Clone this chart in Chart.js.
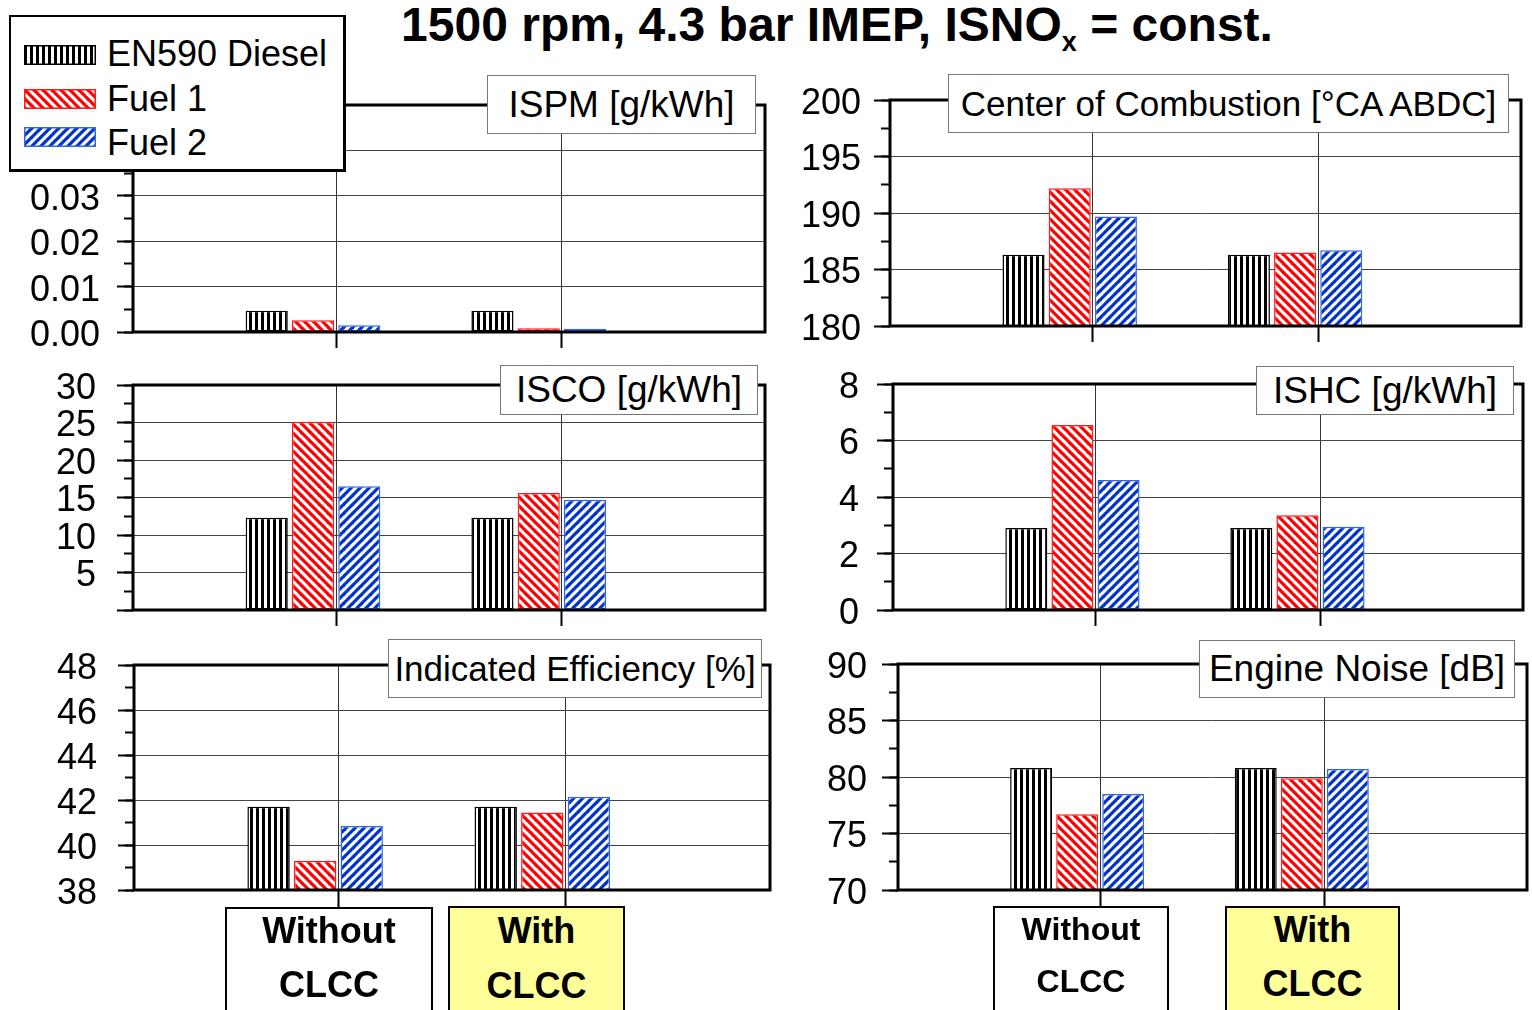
<!DOCTYPE html>
<html lang="en">
<head>
<meta charset="utf-8" />
<title>1500 rpm, 4.3 bar IMEP, ISNOx = const.</title>
<script src="https://cdn.jsdelivr.net/npm/chart.js@4.4.1/dist/chart.umd.min.js"></script>
<style>
	body { margin: 0; width: 1532px; height: 1010px; overflow: hidden; background: #fff; position: relative;
		font-family: "Liberation Sans", Arial, sans-serif; color: #000; }
	canvas.panel { position: absolute; }
	#title { position: absolute; top: 1px; left: 837px; transform: translateX(-50%); font-weight: bold;
		font-size: 48px; line-height: 48px; white-space: nowrap; z-index: 3; }
	#title sub { font-size: 27px; vertical-align: -10px; line-height: 0; }
	.label { position: absolute; background: #fff; border: 1px solid #777; text-align: center;
		white-space: nowrap; z-index: 2; box-sizing: border-box; }
	#legend { position: absolute; left: 9px; top: 15px; width: 337px; height: 157px; box-sizing: border-box;
		border: 2px solid #000; border-right-width: 3px; border-bottom-width: 3px; background: #fff; z-index: 4; }
	#legend .item { position: absolute; left: 13px; height: 20px; display: flex; align-items: center; }
	#legend .item span { font-size: 36px; margin-left: 11px; line-height: 20px; position: relative; }
	.group { position: absolute; border: 2px solid #000; height: 130px; font-weight: bold; text-align: center; z-index: 2; }
	.group div { margin-top: -5px; }
	.yellow { background: #ffff99; }
</style>
</head>
<body>
<div id="title">1500 rpm, 4.3 bar IMEP, ISNO<sub>x</sub> = const.</div>

<div id="legend">
	<div class="item" style="top: 28px"><canvas id="sw0" width="72" height="20"></canvas><span style="top: -1px">EN590 Diesel</span></div>
	<div class="item" style="top: 72px"><canvas id="sw1" width="72" height="20"></canvas><span>Fuel 1</span></div>
	<div class="item" style="top: 110px"><canvas id="sw2" width="72" height="20"></canvas><span style="top: 6px">Fuel 2</span></div>
</div>

<div class="group" style="left: 225px; top: 907px; width: 204px; font-size: 36px; line-height: 54px;"><div>Without<br>CLCC</div></div>
<div class="group yellow" style="left: 448px; top: 906px; width: 173px; font-size: 36px; line-height: 55px;"><div>With<br>CLCC</div></div>
<div class="group" style="left: 993px; top: 906px; width: 172px; font-size: 32px; line-height: 52px;"><div>Without<br>CLCC</div></div>
<div class="group yellow" style="left: 1225px; top: 906px; width: 171px; font-size: 36px; line-height: 54px;"><div>With<br>CLCC</div></div>

<script>
	const groups = ["Without CLCC", "With CLCC"];
	const fuels = ["EN590 Diesel", "Fuel 1", "Fuel 2"];

	// ISPM [g/kWh]
	const ispmDiesel = [0.0047, 0.0047];
	const ispmFuel1 = [0.0026, 0.0008];
	const ispmFuel2 = [0.0015, 0.0007];
	// Center of Combustion [°CA ABDC]
	const cocDiesel = [186.3, 186.3];
	const cocFuel1 = [192.2, 186.5];
	const cocFuel2 = [189.7, 186.7];
	// ISCO [g/kWh]
	const iscoDiesel = [12.3, 12.3];
	const iscoFuel1 = [25.1, 15.6];
	const iscoFuel2 = [16.5, 14.7];
	// ISHC [g/kWh]
	const ishcDiesel = [2.9, 2.9];
	const ishcFuel1 = [6.55, 3.35];
	const ishcFuel2 = [4.6, 2.95];
	// Indicated Efficiency [%]
	const effDiesel = [41.7, 41.7];
	const effFuel1 = [39.3, 41.45];
	const effFuel2 = [40.85, 42.15];
	// Engine Noise [dB]
	const noiseDiesel = [80.8, 80.8];
	const noiseFuel1 = [76.7, 79.9];
	const noiseFuel2 = [78.5, 80.7];

	const hatchKinds = ["vertical", "down", "up"];
	const hatchColors = ["#000000", "#ff0000", "#0033cc"];
	const edgeColors = ["#000000", "#ff1a1a", "#3366e6"];

	Chart.defaults.font.family = '"Liberation Sans", Arial, sans-serif';
	Chart.defaults.color = "#000";

	function hatch(ctx, kind, color) {
		const tile = document.createElement("canvas");
		const s = kind === "vertical" ? 6 : 9;
		tile.width = s;
		tile.height = s;
		const g = tile.getContext("2d");
		g.fillStyle = "#fff";
		g.fillRect(0, 0, s, s);
		g.fillStyle = color;
		g.strokeStyle = color;
		if (kind === "vertical") {
			g.fillRect(0, 0, 3, s);
		} else {
			g.lineWidth = 3.2;
			for (const o of [-s, 0, s]) {
				g.beginPath();
				if (kind === "down") {
					g.moveTo(o - 2, -2);
					g.lineTo(o + s + 2, s + 2);
				} else {
					g.moveTo(o - 2, s + 2);
					g.lineTo(o + s + 2, -2);
				}
				g.stroke();
			}
		}
		return ctx.createPattern(tile, "repeat");
	}

	// legend swatches
	for (let k = 0; k < fuels.length; k++) {
		const c = document.getElementById("sw" + k);
		const g = c.getContext("2d");
		g.fillStyle = hatch(g, hatchKinds[k], hatchColors[k]);
		g.fillRect(0, 0, c.width, c.height);
		g.strokeStyle = edgeColors[k];
		g.lineWidth = 1.5;
		g.strokeRect(0.75, 0.75, c.width - 1.5, c.height - 1.5);
	}

	const frame = {
		id: "frame",
		afterDraw(chart) {
			const { ctx, chartArea: a } = chart;
			ctx.save();
			ctx.strokeStyle = "#000";
			ctx.lineWidth = 3;
			ctx.strokeRect(a.left, a.top, a.right - a.left, a.bottom - a.top);
			ctx.restore();
		},
	};

	const panels = [
		{ title: "ISPM [g/kWh]", titleSize: 37, area: [133, 105, 765, 332], min: 0, max: 0.05, step: 0.01, decimals: 2, pad: 17,
			xTick: 16, series: [ispmDiesel, ispmFuel1, ispmFuel2], box: [487, 75, 269, 59] },
		{ title: "Center of Combustion [°CA ABDC]", titleSize: 35, area: [890, 100, 1521, 326], min: 180, max: 200, step: 5, decimals: 0, pad: 13,
			xTick: 16, series: [cocDiesel, cocFuel1, cocFuel2], box: [948, 74, 561, 59] },
		{ title: "ISCO [g/kWh]", titleSize: 37, area: [133, 385, 765, 610], min: 0, max: 30, step: 5, decimals: 0, pad: 21, hideZero: true,
			xTick: 16, series: [iscoDiesel, iscoFuel1, iscoFuel2], box: [500, 365, 258, 50] },
		{ title: "ISHC [g/kWh]", titleSize: 37, area: [893, 384, 1523, 610], min: 0, max: 8, step: 2, decimals: 0, pad: 18,
			xTick: 16, series: [ishcDiesel, ishcFuel1, ishcFuel2], box: [1256, 366, 258, 49] },
		{ title: "Indicated Efficiency [%]", titleSize: 35, area: [134, 665, 770, 890], min: 38, max: 48, step: 2, decimals: 0, pad: 21,
			xTick: 17, series: [effDiesel, effFuel1, effFuel2], box: [388, 639, 374, 59] },
		{ title: "Engine Noise [dB]", titleSize: 37, area: [898, 664, 1527, 890], min: 70, max: 90, step: 5, decimals: 0, pad: 15,
			xTick: 16, series: [noiseDiesel, noiseFuel1, noiseFuel2], box: [1199, 640, 316, 58] },
	];

	const tickFont = 36;
	const tickShift = 8; // two-line label trick: pushes the number ~4px below the tick
	const yW = 130, padRight = 4;

	for (const p of panels) {
		const [l, t, r, b] = p.area;
		// room above/below the plot: half a tick label plus the tick padding
		const padV = Math.ceil(tickFont * 0.6) + p.pad + 1;
		const canvas = document.createElement("canvas");
		canvas.className = "panel";
		canvas.width = r - l + yW + padRight;
		canvas.height = b - t + 2 * padV;
		canvas.style.left = l - yW + "px";
		canvas.style.top = t - padV + "px";
		document.body.appendChild(canvas);
		const ctx = canvas.getContext("2d");

		const datasets = fuels.map((f, k) => ({
			label: f,
			data: p.series[k].map((v, i) => ({ x: i, y: v })),
			backgroundColor: hatch(ctx, hatchKinds[k], hatchColors[k]),
			borderColor: edgeColors[k],
			borderWidth: 1.5,
			borderSkipped: false,
			xAxisID: "x",
			yAxisID: "y",
		}));
		// empty fourth slot of each group, as in the original layout
		datasets.push({ label: "", data: [], xAxisID: "x", yAxisID: "y" });

		new Chart(canvas, {
			type: "bar",
			data: { datasets },
			options: {
				responsive: false,
				animation: false,
				layout: { padding: { top: padV, right: padRight, bottom: 0, left: 0 } },
				datasets: { bar: { categoryPercentage: 0.82, barPercentage: 0.91 } },
				plugins: { legend: { display: false }, tooltip: { enabled: false } },
				scales: {
					x: {
						type: "linear",
						min: -0.9,
						max: groups.length - 0.1,
						offset: false,
						afterFit: (s) => { s.height = padV; },
						afterBuildTicks: (s) => { s.ticks = groups.map((g, i) => ({ value: i })); },
						ticks: { display: false },
						grid: { offset: false, color: "#333", lineWidth: 1, tickLength: p.xTick, tickColor: "#000", tickWidth: 2 },
						border: { display: false },
					},
					y: {
						type: "linear",
						position: "left",
						weight: 1,
						min: p.min,
						max: p.max,
						afterFit: (s) => { s.width = yW; },
						ticks: {
							stepSize: p.step,
							padding: p.pad,
							autoSkip: false,
							font: { size: tickFont, lineHeight: tickShift + "px" },
							color: "#000",
							callback: (v) => ["", p.hideZero && v === 0 ? "" : v.toFixed(p.decimals)],
						},
						grid: { color: "#444", lineWidth: 1, tickLength: 16, tickColor: "#000", tickWidth: 2 },
						border: { display: false },
					},
					yMinor: {
						type: "linear",
						position: "left",
						weight: 0,
						min: p.min,
						max: p.max,
						afterFit: (s) => { s.width = 0; },
						ticks: { display: false, stepSize: p.step / 2, autoSkip: false },
						grid: { drawOnChartArea: false, tickLength: 9, tickColor: "#000", tickWidth: 2 },
						border: { display: false },
					},
				},
			},
			plugins: [frame],
		});

		const [bl, bt, bw, bh] = p.box;
		const label = document.createElement("div");
		label.className = "label";
		label.style.left = bl + "px";
		label.style.top = bt + "px";
		label.style.width = bw + "px";
		label.style.height = bh + "px";
		label.style.lineHeight = bh - 2 + "px";
		label.style.fontSize = p.titleSize + "px";
		label.textContent = p.title;
		document.body.appendChild(label);
	}
</script>
</body>
</html>
